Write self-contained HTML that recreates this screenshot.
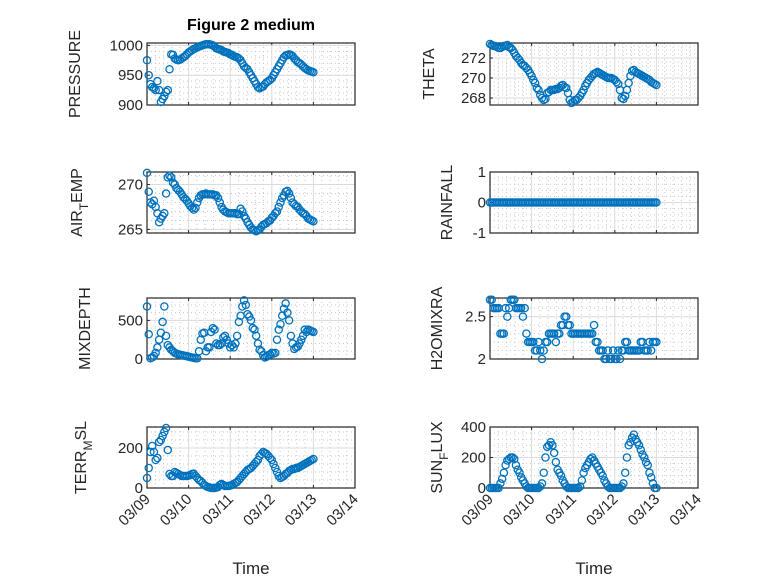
<!DOCTYPE html>
<html><head><meta charset="utf-8"><style>
html,body{margin:0;padding:0;background:#fff;}
svg{display:block;font-family:"Liberation Sans",sans-serif;}
</style></head><body>
<svg id="fig" width="778" height="583" viewBox="0 0 778 583" xmlns="http://www.w3.org/2000/svg">
<rect width="778" height="583" fill="#fff"/>
<text x="251" y="30" font-size="16" font-weight="bold" text-anchor="middle" fill="#000">Figure 2 medium</text>
</svg>
<script>
// hourly samples starting 03/09 00:00 (index = hour)
const xTickLabels=["03/09","03/10","03/11","03/12","03/13","03/14"];
const pressure=[975,950,935,930,928,925,940,925,905,910,915,922,925,960,985,984,978,976,975,976,978,980,982,985,988,990,992,994,995,997,998,999,1000,1001,1002,1002,1002,1001,1000,998,995,994,993,992,990,989,988,987,985,984,982,981,980,978,975,970,965,962,960,955,950,945,940,935,930,928,930,931,935,938,940,942,945,950,955,960,965,970,975,980,983,984,985,984,982,978,975,972,970,968,965,962,960,958,957,956,955];
const theta=[273.4,273.3,273.2,273.2,273.1,273.0,273.0,273.1,273.2,273.2,273.3,273.1,273.0,272.8,272.5,272.2,272.0,271.8,271.5,271.3,271.2,271.0,270.8,270.5,270.2,269.8,269.5,269.0,268.8,268.3,268.0,267.8,267.9,268.5,268.6,268.8,268.8,268.8,268.9,268.9,269.0,269.2,269.3,269.1,269.0,268.5,267.8,267.5,267.6,267.8,267.8,268.0,268.2,268.5,268.8,269.2,269.5,269.8,270.0,270.2,270.4,270.5,270.6,270.5,270.4,270.3,270.2,270.1,270.0,270.0,270.0,269.9,269.8,269.6,269.4,268.8,268.0,267.9,268.2,268.8,269.5,270.2,270.7,270.8,270.6,270.5,270.4,270.3,270.2,270.1,270.0,269.9,269.8,269.6,269.5,269.4,269.3];
const airTemp=[271.3,269.2,268.0,267.8,268.2,267.5,266.8,265.8,266.2,266.5,266.8,269.0,270.8,271.0,270.8,270.2,270.0,269.6,269.4,269.2,268.9,268.6,268.4,268.2,267.9,267.6,267.4,267.2,267.4,268.0,268.5,268.8,268.9,268.9,269.0,268.9,268.9,268.9,268.9,268.8,268.8,268.5,268.0,267.5,267.2,267.0,266.9,266.8,266.8,266.8,266.8,266.8,266.7,266.7,267.3,267.0,266.5,266.2,265.8,265.5,265.2,265.0,264.9,264.8,264.9,265.0,265.3,265.5,265.6,265.7,265.9,266.0,266.3,266.5,266.8,267.0,267.5,268.0,268.5,268.8,269.2,269.3,269.0,268.5,268.0,267.8,267.6,267.5,267.2,267.0,266.8,266.7,266.5,266.2,266.1,266.0,265.9];
const rainfall=[0,0,0,0,0,0,0,0,0,0,0,0,0,0,0,0,0,0,0,0,0,0,0,0,0,0,0,0,0,0,0,0,0,0,0,0,0,0,0,0,0,0,0,0,0,0,0,0,0,0,0,0,0,0,0,0,0,0,0,0,0,0,0,0,0,0,0,0,0,0,0,0,0,0,0,0,0,0,0,0,0,0,0,0,0,0,0,0,0,0,0,0,0,0,0,0,0];
const mixDepth=[680,320,10,20,40,80,150,250,340,480,680,300,180,150,120,100,80,70,60,55,50,45,40,35,30,25,20,15,10,10,100,250,330,340,100,150,150,350,400,380,200,180,180,200,280,300,250,200,150,180,150,200,300,480,560,680,760,700,580,550,500,400,380,300,200,120,100,50,20,30,50,60,80,70,80,250,380,450,560,650,720,600,500,300,200,130,150,160,200,250,300,380,350,380,370,360,350];
const h2oMix=[2.7,2.7,2.6,2.6,2.6,2.6,2.3,2.3,2.3,2.6,2.5,2.6,2.7,2.7,2.7,2.6,2.6,2.6,2.6,2.5,2.6,2.3,2.2,2.2,2.2,2.2,2.1,2.1,2.2,2.1,2.0,2.1,2.2,2.2,2.3,2.3,2.3,2.3,2.2,2.3,2.3,2.4,2.4,2.5,2.5,2.4,2.4,2.3,2.3,2.3,2.3,2.3,2.3,2.3,2.3,2.3,2.3,2.3,2.3,2.3,2.4,2.2,2.2,2.1,2.1,2.1,2.0,2.0,2.1,2.0,2.0,2.1,2.0,2.0,2.1,2.0,2.1,2.1,2.2,2.2,2.1,2.1,2.1,2.1,2.1,2.1,2.1,2.2,2.2,2.1,2.1,2.1,2.2,2.1,2.2,2.2,2.2];
const terrMsl=[50,100,180,210,180,140,150,230,240,260,280,300,190,70,60,60,80,75,70,65,60,60,60,60,62,65,70,72,60,50,40,35,25,15,10,5,3,0,0,0,2,5,15,20,15,10,10,10,12,15,20,25,30,40,50,60,70,80,90,95,100,110,120,130,140,160,170,180,175,170,160,150,140,120,100,80,60,50,55,60,70,75,85,90,95,95,100,100,105,110,115,120,125,130,135,140,145];
const sunFlux=[0,0,0,0,0,0,30,60,100,150,180,190,200,200,190,150,120,100,70,50,30,10,0,0,0,0,0,0,0,10,30,100,200,270,280,300,280,230,170,120,100,80,50,30,10,0,0,0,0,0,0,0,10,50,100,130,150,170,190,200,180,160,140,120,100,80,50,30,10,0,0,0,0,0,0,0,10,30,100,200,280,300,330,350,320,300,280,250,220,200,170,150,100,70,30,0,0];
const pressureTicks=[900,950,1000], thetaTicks=[268,270,272], airTicks=[265,270], rainTicks=[-1,0,1], mixTicks=[0,500], h2oTicks=[2,2.5], terrTicks=[0,200], sunTicks=[0,200,400];

const NS="http://www.w3.org/2000/svg";
const svg=document.getElementById('fig');
function mk(tag,attrs,parent){const e=document.createElementNS(NS,tag);for(const k in attrs)e.setAttribute(k,attrs[k]);(parent||svg).appendChild(e);return e;}

const panels=[
 {name:'pressure',col:0,row:0,data:pressure,ylim:[900,1004],ticks:pressureTicks,lab:['PRESSURE'],lx:80},
 {name:'theta',col:1,row:0,data:theta,ylim:[267.3,273.5],ticks:thetaTicks,lab:['THETA'],lx:434},
 {name:'air-temp',col:0,row:1,data:airTemp,ylim:[264.6,271.4],ticks:airTicks,lab:['AIR','T','EMP'],lx:82},
 {name:'rainfall',col:1,row:1,data:rainfall,ylim:[-1,1],ticks:rainTicks,lab:['RAINFALL'],lx:452},
 {name:'mixdepth',col:0,row:2,data:mixDepth,ylim:[0,790],ticks:mixTicks,lab:['MIXDEPTH'],lx:90},
 {name:'h2omixra',col:1,row:2,data:h2oMix,ylim:[2,2.72],ticks:h2oTicks,lab:['H2OMIXRA'],lx:442},
 {name:'terr-msl',col:0,row:3,data:terrMsl,ylim:[0,305],ticks:terrTicks,lab:['TERR','M','SL'],lx:86},
 {name:'sun-flux',col:1,row:3,data:sunFlux,ylim:[0,400],ticks:sunTicks,lab:['SUN','F','LUX'],lx:442}
];
const colX=[[147,355],[490,698]];
const rowY=[[43,105],[172,233],[298,359],[427,488]];

panels.forEach(p=>{
 const [x0,x1]=colX[p.col],[y0,y1]=rowY[p.row];
 const g=mk('g',{});
 
 
 const xs=d=>x0+(d/5)*(x1-x0);
 const ys=v=>y1-(v-p.ylim[0])/(p.ylim[1]-p.ylim[0])*(y1-y0);
 for(let d=0;d<5;d+=0.2){const x=xs(d);if(Math.abs(d-Math.round(d))<1e-6)continue;mk('line',{x1:x,x2:x,y1:y0,y2:y1,stroke:'#c8c8c8','stroke-width':1,'stroke-dasharray':'1,3'},g);}
 const st=p.ticks[1]-p.ticks[0];
 for(let v=p.ticks[0]-st;v<=p.ylim[1]+1e-9;v+=st/5){if(v<p.ylim[0]-1e-9)continue;const y=ys(v);mk('line',{x1:x0,x2:x1,y1:y,y2:y,stroke:'#c8c8c8','stroke-width':1,'stroke-dasharray':'1,3'},g);}
 xTickLabels.forEach((t,i)=>{const x=xs(i);
  mk('line',{x1:x,x2:x,y1:y0,y2:y1,stroke:'#dcdcdc','stroke-width':1},g);
  mk('line',{x1:x,x2:x,y1:y1,y2:y1-3,stroke:'#262626','stroke-width':1},g);
  mk('line',{x1:x,x2:x,y1:y0,y2:y0+3,stroke:'#262626','stroke-width':1},g);
  if(p.row===3){const tx=mk('text',{x:x+4,y:y1+12,'font-size':15,fill:'#262626','text-anchor':'end',transform:`rotate(-45 ${x+4} ${y1+12})`},g);tx.textContent=t;
   
   }
 });
 p.ticks.forEach(v=>{const y=ys(v);
  mk('line',{x1:x0,x2:x1,y1:y,y2:y,stroke:'#dcdcdc','stroke-width':1},g);
  mk('line',{x1:x0,x2:x0+3,y1:y,y2:y,stroke:'#262626','stroke-width':1},g);
  const tx=mk('text',{x:x0-4,y:y+5,'font-size':15,fill:'#262626','text-anchor':'end'},g);tx.textContent=String(v);
  
  
 });
 mk('rect',{x:x0,y:y0,width:x1-x0,height:y1-y0,fill:'none',stroke:'#262626','stroke-width':1.2},g);
 p.data.forEach((v,i)=>{const c=mk('circle',{cx:xs(i/24),cy:ys(v),r:3.6,fill:'none',stroke:'#0072BD','stroke-width':1.3},g);
  
  });
 const cy=(y0+y1)/2;
 const lt=mk('text',{x:p.lx,y:cy,'font-size':16,fill:'#262626','text-anchor':'middle',transform:`rotate(-90 ${p.lx} ${cy})`},g);
 
 
 if(p.lab.length===1)lt.textContent=p.lab[0];
 else{const a=mk('tspan',{},lt);a.textContent=p.lab[0];const b=mk('tspan',{dy:6,'font-size':12},lt);b.textContent=p.lab[1];const c=mk('tspan',{dy:-6},lt);c.textContent=p.lab[2];}
 if(p.row===3){const t=mk('text',{x:(x0+x1)/2,y:574,'font-size':17,fill:'#262626','text-anchor':'middle'},g);t.textContent='Time';
  
  }
});
</script>
</body></html>
